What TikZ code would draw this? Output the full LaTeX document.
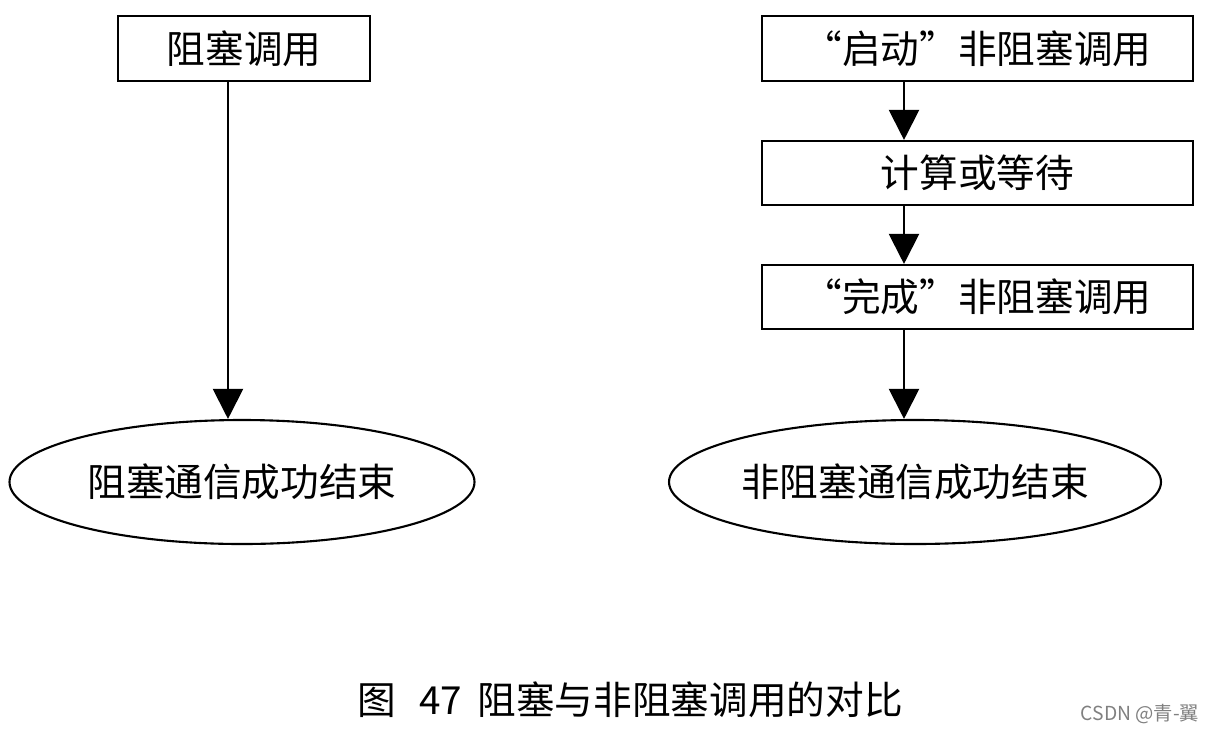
\documentclass[tikz,border=0pt]{standalone}
\usepackage{fontspec}
\setmainfont{Noto Sans CJK SC}
\usetikzlibrary{arrows.meta,shapes.geometric}
\begin{document}
\begin{tikzpicture}[x=0.02cm,y=-0.02cm,
  box/.style={draw,line width=1.2pt,inner sep=0pt,font=\fontsize{22}{26}\selectfont},
  ell/.style={draw,ellipse,line width=1.2pt,inner sep=0pt,font=\fontsize{22}{26}\selectfont},
  arr/.style={line width=1.2pt,-{Triangle[width=0.6cm,length=0.6cm]}}]
\useasboundingbox (0,0) rectangle (1218,735);
\node[box,minimum width=252*0.02cm,minimum height=65*0.02cm] (a) at (244,48.5) {阻塞调用};
\node[ell,minimum width=465*0.02cm,minimum height=124*0.02cm] (b) at (242,482) {阻塞通信成功结束};
\draw[arr] (a.south -| 228,0) -- (b.north -| 228,0);
\node[box,minimum width=431*0.02cm,minimum height=65*0.02cm] (c) at (977.5,48.5) {“启动”非阻塞调用};
\node[box,minimum width=431*0.02cm,minimum height=64*0.02cm] (d) at (977.5,173) {计算或等待};
\node[box,minimum width=431*0.02cm,minimum height=64*0.02cm] (e) at (977.5,297) {“完成”非阻塞调用};
\node[ell,minimum width=450*0.02cm,minimum height=124*0.02cm] (f) at (915,482) {非阻塞通信成功结束};
\draw[arr] (c.south -| 904,0) -- (d.north -| 904,0);
\draw[arr] (d.south -| 904,0) -- (e.north -| 904,0);
\draw[arr] (e.south -| 904,0) -- (f.north -| 904,0);
\node[font=\fontsize{22}{26}\selectfont] (cap) at (630,700) {图\hspace{0.6em}47\hspace{0.4em}阻塞与非阻塞调用的对比};
\node[font=\fontsize{11}{13}\selectfont,text=gray] (wm) at (1140,714) {CSDN @青-翼};
\end{tikzpicture}
\end{document}
